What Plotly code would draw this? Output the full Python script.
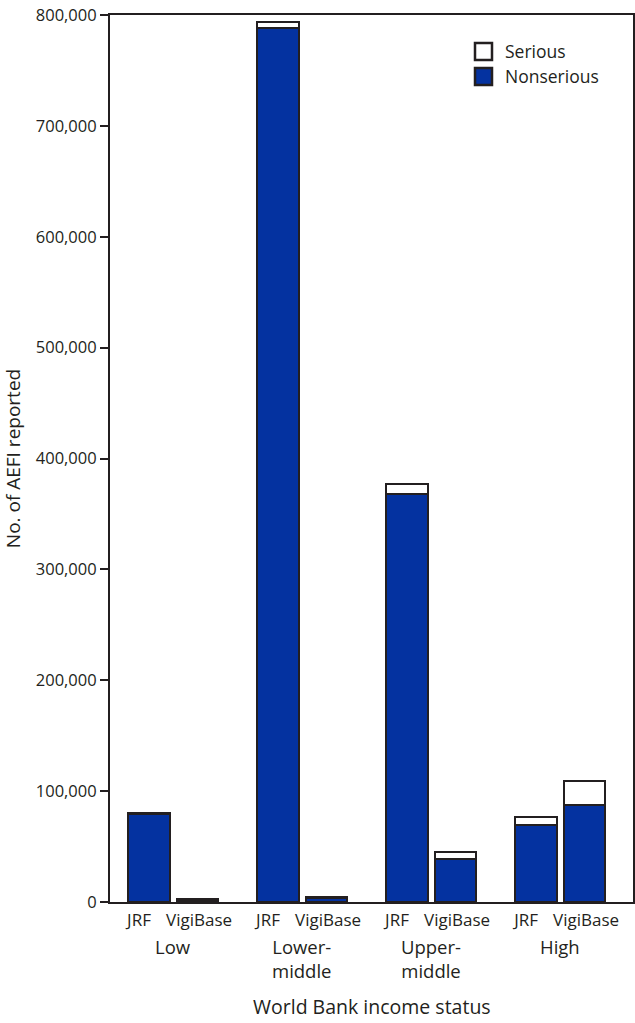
from pathlib import Path

import plotly.graph_objects as go

# AEFI reports by World Bank income status
income_groups = ["Low", "Lower-<br>middle", "Upper-<br>middle", "High"]
sources = ["JRF", "VigiBase"]
nonserious = [79000, 2200, 788000, 3200, 368000, 38800, 69400, 87800]
serious = [1500, 900, 5500, 1000, 9000, 6000, 7500, 21000]
legend_names = ["Serious", "Nonserious"]

ink = "#231f20"
blue = "#0432a0"
font_family = "Open Sans, Noto Sans, sans-serif"

# plot area in window pixels
plot_left, plot_right, plot_top, plot_bottom = 110, 633, 15, 902


def px_x(value):
    return (value - plot_left) / (plot_right - plot_left)


def px_y(value):
    return (plot_bottom - value) / (plot_bottom - plot_top)


# bar positions: one unit per income group, two sources side by side;
# the JRF label sits a little left of its bar, as in the original
pair_offset = 0.188
label_offsets = [-0.265, 0.2]
x_pos = []
x_tick = []
x_text = []
for g_idx, _ in enumerate(income_groups):
    for s_idx, source in enumerate(sources):
        x_pos.append(g_idx + (pair_offset if s_idx else -pair_offset))
        x_tick.append(g_idx + label_offsets[s_idx])
        x_text.append(source)

fig = go.Figure()
fig.add_trace(
    go.Bar(
        x=x_pos, y=nonserious, name="Nonserious", width=0.322, showlegend=False,
        marker=dict(color=blue, line=dict(color=ink, width=2)),
    )
)
fig.add_trace(
    go.Bar(
        x=x_pos, y=serious, name="Serious", width=0.322, showlegend=False,
        marker=dict(color="white", line=dict(color=ink, width=2)),
    )
)

# legend drawn by hand so the swatches match the larger boxes of the original
for row, (name, fill) in enumerate(zip(legend_names, ["white", blue])):
    top = 43 + row * 25
    fig.add_shape(
        type="rect", xref="paper", yref="paper",
        x0=px_x(475), x1=px_x(492), y0=px_y(top), y1=px_y(top + 17),
        fillcolor=fill, line=dict(color=ink, width=2.5),
    )
    fig.add_annotation(
        x=px_x(503), y=px_y(top + 8.5), xref="paper", yref="paper", text=name,
        showarrow=False, xanchor="left", yanchor="middle",
        font=dict(size=17.5, color=ink),
    )

for g_idx, label in enumerate(income_groups):
    fig.add_annotation(
        x=g_idx, y=0, xref="x", yref="paper", text=label, showarrow=False,
        yanchor="top", yshift=-30, font=dict(size=18.5, color=ink),
    )
fig.add_annotation(
    x=0.5, y=0, xref="paper", yref="paper", text="World Bank income status",
    showarrow=False, yanchor="top", yshift=-89, font=dict(size=19.5, color=ink),
)

fig.update_layout(
    width=635, height=1023,
    margin=dict(l=plot_left, r=635 - plot_right, t=plot_top, b=1023 - plot_bottom),
    barmode="stack",
    plot_bgcolor="white", paper_bgcolor="white",
    font=dict(family=font_family, size=16, color=ink),
    showlegend=False,
    xaxis=dict(
        range=[-0.49, 3.564], tickvals=x_tick, ticktext=x_text, ticks="",
        showline=True, linecolor=ink, linewidth=2, mirror=True,
        showgrid=False, zeroline=False, tickfont=dict(size=17),
        ticklabelstandoff=2,
    ),
    yaxis=dict(
        range=[0, 800000], tickvals=list(range(0, 800001, 100000)),
        tickformat=",d", ticks="outside", ticklen=8, tickwidth=2, tickcolor=ink,
        showline=True, linecolor=ink, linewidth=2, mirror=True,
        showgrid=False, zeroline=False, tickfont=dict(size=16.5),
        title=dict(text="No. of AEFI reported", font=dict(size=19), standoff=15),
        automargin=False,
    ),
)

fig.write_html("out.html", config={"displayModeBar": False})

# drop the browser's default body margin so the figure fills the window
page = Path("out.html")
page.write_text(page.read_text().replace("<body>", '<body style="margin:0">', 1))
